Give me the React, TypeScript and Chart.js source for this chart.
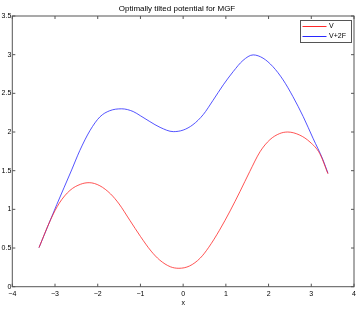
import React, { useEffect, useRef } from "react";
import { Chart, registerables } from "chart.js";

Chart.register(...registerables);

const titleText = "Optimally tilted potential for MGF";
const xLabel = "x";
const seriesNames = ["V", "V+2F"];
const seriesColors = ["rgb(255,40,40)", "rgb(40,40,255)"];

const vX = [-3.375, -3.1, -2.9, -2.65, -2.4, -2.2, -1.95, -1.7, -1.5, -1.25, -1.0, -0.75, -0.55, -0.3, -0.1, 0.15, 0.4, 0.6, 0.85, 1.1, 1.33, 1.56, 1.8, 2.03, 2.26, 2.45, 2.73, 2.97, 3.2, 3.39];
const vY = [0.505, 0.87, 1.08, 1.245, 1.325, 1.345, 1.305, 1.2, 1.07, 0.86, 0.65, 0.46, 0.345, 0.258, 0.238, 0.268, 0.37, 0.51, 0.73, 0.98, 1.23, 1.49, 1.745, 1.9, 1.98, 2.0, 1.96, 1.87, 1.72, 1.46];

const v2fX = [-3.375, -2.96, -2.61, -2.42, -2.18, -1.95, -1.72, -1.44, -1.17, -1.0, -0.78, -0.54, -0.23, 0, 0.23, 0.47, 0.7, 0.94, 1.17, 1.4, 1.64, 1.87, 2.1, 2.34, 2.57, 2.81, 3.04, 3.27, 3.39];
const v2fY = [0.505, 1.06, 1.51, 1.76, 2.02, 2.195, 2.275, 2.3, 2.265, 2.21, 2.135, 2.06, 2.005, 2.025, 2.095, 2.225, 2.41, 2.61, 2.78, 2.925, 2.997, 2.955, 2.846, 2.674, 2.458, 2.2, 1.92, 1.645, 1.467];

const xMin = -4, xMax = 4, xStep = 1;
const yMin = 0, yMax = 3.5, yStep = 0.5;

const FONT = "'Liberation Sans', Arial, Helvetica, sans-serif";
const AXIS_COLOR = "#555555";

const boxPlugin = {
  id: "matlabBox",
  afterDraw(chart: any) {
    const { ctx, chartArea: a } = chart;
    const xs = chart.scales.x;
    const ys = chart.scales.y;
    ctx.save();
    ctx.strokeStyle = AXIS_COLOR;
    ctx.lineWidth = 1;
    ctx.strokeRect(a.left, a.top, a.right - a.left, a.bottom - a.top);
    const tl = 3;
    ctx.beginPath();
    xs.ticks.forEach((t: any) => {
      const px = xs.getPixelForValue(t.value);
      ctx.moveTo(px, a.bottom); ctx.lineTo(px, a.bottom - tl);
      ctx.moveTo(px, a.top); ctx.lineTo(px, a.top + tl);
    });
    ys.ticks.forEach((t: any) => {
      const py = ys.getPixelForValue(t.value);
      ctx.moveTo(a.left, py); ctx.lineTo(a.left + tl, py);
      ctx.moveTo(a.right, py); ctx.lineTo(a.right - tl, py);
    });
    ctx.stroke();

    // legend
    const lx = 300.5, ly = 20.5, lw = 51, lh = 22;
    ctx.fillStyle = "#ffffff";
    ctx.fillRect(lx, ly, lw, lh);
    ctx.strokeStyle = AXIS_COLOR;
    ctx.strokeRect(lx, ly, lw, lh);
    ctx.font = "7px " + FONT;
    ctx.textBaseline = "middle";
    ctx.textAlign = "left";
    seriesNames.forEach((name, i) => {
      const yy = Math.round(ly + 5 + i * 10.5) + 0.5;
      ctx.strokeStyle = seriesColors[i];
      ctx.lineWidth = 1;
      ctx.beginPath();
      ctx.moveTo(lx + 2, yy);
      ctx.lineTo(lx + 26, yy);
      ctx.stroke();
      ctx.fillStyle = "#000000";
      ctx.fillText(name, lx + 28.5, yy);
    });
    ctx.restore();
  },
};

const fmt = (v: number) => String(v).replace("-", "\u2212");

export default function App() {
  const ref = useRef<HTMLCanvasElement>(null);
  useEffect(() => {
    if (!ref.current) return;
    const chart = new Chart(ref.current, {
      type: "line",
      data: {
        datasets: [
          {
            label: seriesNames[0],
            data: vX.map((x, i) => ({ x, y: vY[i] })),
            borderColor: seriesColors[0],
            borderWidth: 0.8,
            pointRadius: 0,
            cubicInterpolationMode: "monotone",
            fill: false,
          },
          {
            label: seriesNames[1],
            data: v2fX.map((x, i) => ({ x, y: v2fY[i] })),
            borderColor: seriesColors[1],
            borderWidth: 0.8,
            pointRadius: 0,
            cubicInterpolationMode: "monotone",
            fill: false,
          },
        ],
      },
      plugins: [boxPlugin],
      options: {
        animation: false,
        responsive: false,
        devicePixelRatio: 1,
        layout: { padding: { left: 0, right: 6, top: 0, bottom: 0 } },
        plugins: {
          legend: { display: false },
          tooltip: { enabled: false },
          title: {
            display: true,
            text: titleText,
            color: "#000",
            font: { family: FONT, size: 8, weight: "normal" },
            padding: { top: 4, bottom: 2.4 },
          },
        },
        scales: {
          x: {
            type: "linear",
            min: xMin,
            max: xMax,
            afterBuildTicks: (s: any) => {
              const t = [];
              for (let v = xMin; v <= xMax + 1e-9; v += xStep) t.push({ value: v });
              s.ticks = t;
            },
            afterFit: (s: any) => { s.height = 22.3; },
            grid: { display: false, drawTicks: false },
            border: { display: false },
            ticks: {
              color: "#000",
              font: { family: FONT, size: 7 },
              padding: 3,
              maxRotation: 0,
              autoSkip: false,
              callback: (v: any) => fmt(v),
            },
            title: {
              display: true,
              text: xLabel,
              color: "#000",
              font: { family: FONT, size: 7 },
              padding: { top: 0, bottom: 2 },
            },
          },
          y: {
            type: "linear",
            min: yMin,
            max: yMax,
            afterBuildTicks: (s: any) => {
              const t = [];
              for (let v = yMin; v <= yMax + 1e-9; v += yStep) t.push({ value: Math.round(v * 10) / 10 });
              s.ticks = t;
            },
            afterFit: (s: any) => { s.width = 12.3; },
            grid: { display: false, drawTicks: false },
            border: { display: false },
            ticks: {
              color: "#000",
              font: { family: FONT, size: 7 },
              padding: 1,
              autoSkip: false,
              callback: (v: any) => fmt(v),
            },
          },
        },
      },
    } as any);
    return () => chart.destroy();
  }, []);
  return (
    <div style={{ position: "fixed", left: 0, top: 0, width: 360, height: 309, background: "#fff" }}>
      <canvas ref={ref} width={360} height={309} style={{ width: 360, height: 309, display: "block" }} />
    </div>
  );
}
